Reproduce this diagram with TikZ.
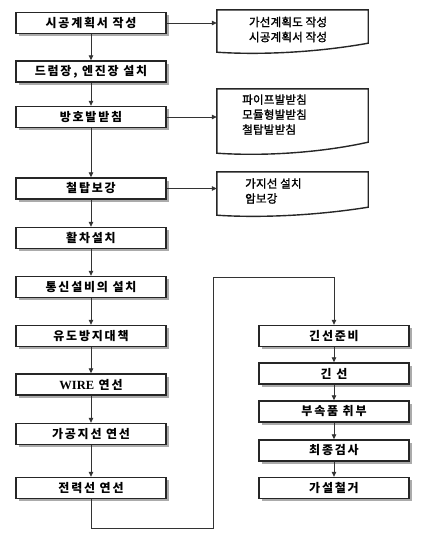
\documentclass[tikz,border=0pt]{standalone}
\usepackage{fontspec}
\usetikzlibrary{arrows.meta,shadows,backgrounds,calc}
\setmainfont{Noto Sans CJK KR}
\newfontfamily\kfont[LetterSpace=15]{Noto Sans CJK KR}
\newfontfamily\dfont[LetterSpace=2,FakeBold=1.5]{Noto Sans CJK KR}
\newfontfamily\wfont{Liberation Serif}
\begin{document}
\begin{tikzpicture}[x=1pt,y=-1pt,
  stepbox/.style={draw=black!85, line width=1.4pt, fill=white, minimum width=150pt, minimum height=21pt, inner sep=0pt,
    font=\kfont\bfseries\fontsize{12}{13}\selectfont,
    drop shadow={shadow xshift=2.5pt,shadow yshift=-2.5pt,fill=black!55,opacity=0.6}},
  docnode/.style={inner sep=0pt, minimum width=151pt},
  doctext/.style={inner sep=0pt, font=\dfont\fontsize{11.5}{15}\selectfont},
  docline/.style={draw=black!85, line width=1.4pt, fill=white},
  docshadow/.style={fill=black!55, opacity=0.6},
  conn/.style={draw=black!80, line width=0.8pt},
  arr/.style={conn, -{Triangle[length=5pt,width=4.5pt]}}]
\useasboundingbox (0,0) rectangle (440,544);

% left column
\node[stepbox] (b1) at (91,23) {시공계획서 작성};
\node[stepbox] (b2) at (91,71.5) {드럼장, 엔진장 설치};
\node[stepbox] (b3) at (91,117) {방호발받침};
\node[stepbox] (b4) at (91,188.5) {철탑보강};
\node[stepbox] (b5) at (91,238) {활차설치};
\node[stepbox] (b6) at (91,287) {통신설비의 설치};
\node[stepbox] (b7) at (91,336) {유도방지대책};
\node[stepbox] (b8) at (91,384.5) {{\wfont\bfseries\fontsize{12.5}{13}\selectfont WIRE} 연선};
\node[stepbox] (b9) at (91,434) {가공지선 연선};
\node[stepbox] (b10) at (91,488) {전력선 연선};

% right column
\node[stepbox] (r1) at (334,336) {긴선준비};
\node[stepbox] (r2) at (334,373.5) {긴 선};
\node[stepbox] (r3) at (334,411.5) {부속품 취부};
\node[stepbox] (r4) at (334,450.5) {최종검사};
\node[stepbox] (r5) at (334,488) {가설철거};

% document shapes (outline frames)
\node[docnode, minimum height=33pt] (d1) at (292.5,26.5) {};
\node[docnode, minimum height=53pt] (d2) at (292.5,115.5) {};
\node[docnode, minimum height=35pt] (d3) at (292.5,189.5) {};

% document texts
\node[doctext, align=center] (d1t) at (288,29.5) {가선계획도 작성\\시공계획서 작성};
\node[doctext, align=left, anchor=west] (d2t) at (242,114.5) {파이프발받침\\모듈형발받침\\철탑발받침};
\node[doctext, align=left, anchor=west] (d3t) at (245,191) {가지선 설치\\암보강};

\begin{scope}[on background layer]
  \foreach \d/\h in {d1/9, d2/11, d3/8} {
    \path[docshadow, shift={(2.5,2.5)}] (\d.north west) -- (\d.north east) -- (\d.south east)
      .. controls ([shift={(-50,\h)}]\d.south east) and ([shift={(45,\h+3)}]\d.south west) .. ([shift={(0,\h)}]\d.south west) -- cycle;
    \path[docline] (\d.north west) -- (\d.north east) -- (\d.south east)
      .. controls ([shift={(-50,\h)}]\d.south east) and ([shift={(45,\h+3)}]\d.south west) .. ([shift={(0,\h)}]\d.south west) -- cycle;
  }
\end{scope}

% connectors left column
\draw[arr] (b1) -- (b2);
\draw[arr] (b2) -- (b3);
\draw[arr] (b3) -- (b4);
\draw[arr] (b4) -- (b5);
\draw[arr] (b5) -- (b6);
\draw[arr] (b6) -- (b7);
\draw[arr] (b7) -- (b8);
\draw[arr] (b8) -- (b9);
\draw[arr] (b9) -- (b10);

% side arrows
\draw[arr] (b1.east) -- (b1.east -| d1.west);
\draw[arr] (b3.east) -- (b3.east -| d2.west);
\draw[arr] (b4.east) -- (b4.east -| d3.west);

% long connector
\coordinate (t1) at (213,528);
\coordinate (t2) at (213,277);
\draw[arr] (b10.south) |- (t1) -- (t2) -| (r1.north);

% right column
\draw[arr] (r1) -- (r2);
\draw[arr] (r2) -- (r3);
\draw[arr] (r3) -- (r4);
\draw[arr] (r4) -- (r5);
\end{tikzpicture}
\end{document}
